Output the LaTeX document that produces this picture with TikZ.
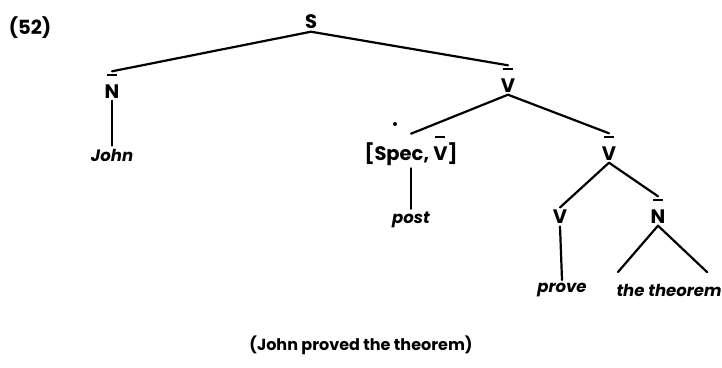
\documentclass[tikz,border=0pt]{standalone}
\usepackage{fontspec}
\setmainfont{Poppins}
\newcommand\mybar[1]{\setbox0\hbox{#1}\vbox{\hbox to\wd0{\hss\vrule width .7\wd0 height 2pt\hss}\kern1pt\box0}}
\begin{document}
\begin{tikzpicture}[x=1pt,y=-1pt,
  lab/.style={font=\fontsize{19.5}{21}\selectfont\bfseries, inner sep=2.5pt},
  word/.style={font=\fontsize{16.5}{18}\selectfont\bfseries\itshape, inner sep=3pt},
  edge/.style={line width=2.2pt, line cap=round},
  speck/.style={circle, fill=black, inner sep=0pt, minimum size=4pt}]
\useasboundingbox (0,0) rectangle (722,367);
\node[lab] (num) at (30,28) {(52)};
\node[lab] (S) at (311,22) {S};
\node[lab] (N1) at (112,86) {\mybar{N}};
\node[word] (john) at (112,155) {John};
\node[lab] (V1) at (508,80) {\mybar{V}};
\node[lab] (spec) at (411,151) {[Spec, \mybar{V}]};
\node[word] (post) at (411,220) {post};
\node[lab] (V2) at (609,148) {\mybar{V}};
\node[lab] (V) at (560,217) {V};
\node[lab] (N2) at (658,211) {\mybar{N}};
\node[word] (prove) at (562,290) {prove};
\node[word] (thm) at (669,290) {the theorem};
\node[speck] (dot) at (395,124) {};
\coordinate (nl) at (618,272);
\coordinate (nr) at (707,272);
\node[lab, font=\fontsize{16}{18}\selectfont\bfseries] (cap) at (361,345) {(John proved the theorem)};
\draw[edge] (S.south) -- (N1.north);
\draw[edge] (S.south) -- (V1.north);
\draw[edge] (N1.south) -- (john.north);
\draw[edge] (V1.south) -- (spec.north);
\draw[edge] (V1.south) -- (V2.north);
\draw[edge] (spec.south) -- (post.north);
\draw[edge] (V2.south) -- (V.north);
\draw[edge] (V2.south) -- (N2.north);
\draw[edge] (V.south) -- (prove.north);
\draw[edge] (N2.south) -- (nl);
\draw[edge] (N2.south) -- (nr);
\end{tikzpicture}
\end{document}
